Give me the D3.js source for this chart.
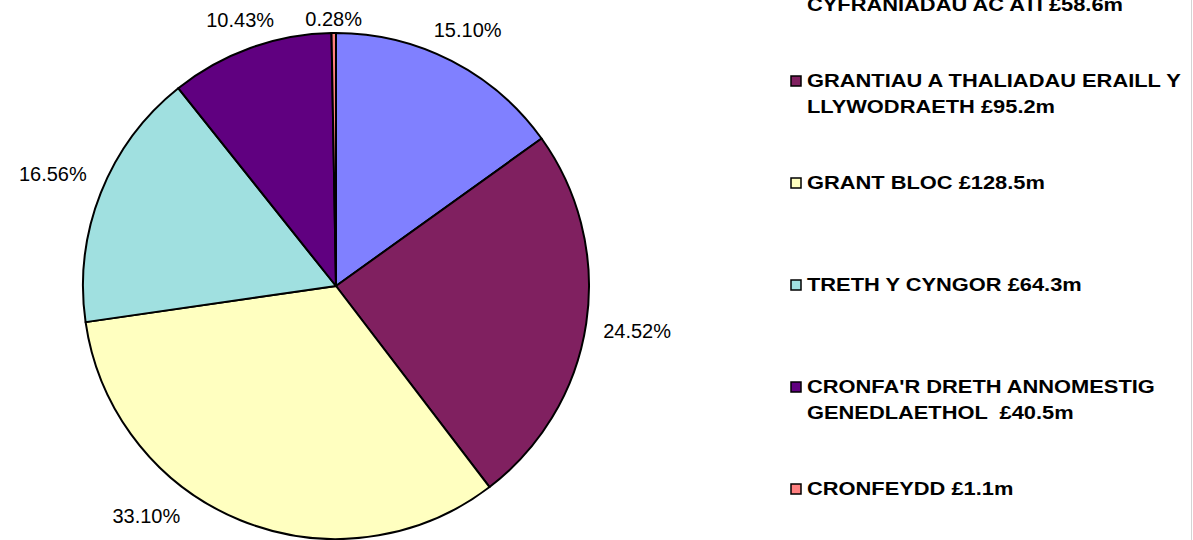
<!DOCTYPE html>
<html>
<head>
<meta charset="utf-8">
<script src="https://cdn.jsdelivr.net/npm/d3@7"></script>
<style>
  html, body { margin: 0; padding: 0; background: #fff; }
  svg { display: block; }
</style>
</head>
<body>
<div id="chart"></div>
<script>
/*************************************/
/* Data                              */
/*************************************/

// Legend names, "\n" marks the wrap point ('' = first line cut off in the source)
const categories = [
  '\nCYFRANIADAU AC ATI',
  'GRANTIAU A THALIADAU ERAILL Y\nLLYWODRAETH',
  'GRANT BLOC',
  'TRETH Y CYNGOR',
  "CRONFA'R DRETH ANNOMESTIG\nGENEDLAETHOL ",
  'CRONFEYDD'
];

// £ million
const values = [58.6, 95.2, 128.5, 64.3, 40.5, 1.1];

const colors = ['#8080FF', '#802060', '#FFFFC0', '#A0E0E0', '#600080', '#FF8080'];


/*************************************/
/* Layout                            */
/*************************************/

const width = 1193;
const height = 540;
const cx = 336;
const cy = 286;
const radius = 253;

const total = d3.sum(values);

const svg = d3.select('#chart')
  .append('svg')
  .attr('width', width)
  .attr('height', height)
  .attr('viewBox', [0, 0, width, height])
  .style('font-family', '"Liberation Sans", Arial, sans-serif');

// faint chart border (only the right edge shows)
svg.append('line')
  .attr('x1', width - 1.5).attr('x2', width - 1.5)
  .attr('y1', 0).attr('y2', height)
  .attr('stroke', '#d4d4d4')
  .attr('stroke-width', 1);


/*************************************/
/* Pie                               */
/*************************************/

const pie = d3.pie().sort(null).value(d => d);
const arcs = pie(values);

const arc = d3.arc().innerRadius(0).outerRadius(radius);

const pieG = svg.append('g')
  .attr('transform', `translate(${cx},${cy})`);

pieG.selectAll('path')
  .data(arcs)
  .join('path')
    .attr('d', arc)
    .attr('fill', (d, i) => colors[i])
    .attr('stroke', '#000')
    .attr('stroke-width', 2)
    .attr('stroke-linejoin', 'round');

// percentage labels outside the pie: box centre pushed out along the mid angle
// (wider gap at the sides than at top/bottom); if the bottom edge of the
// picture pulls a label onto the pie, slide it sideways
const labelH = 20;
pieG.selectAll('text')
  .data(arcs)
  .join('text')
    .attr('font-size', 20)
    .attr('fill', '#000')
    .attr('text-anchor', 'middle')
    .attr('dy', '0.35em')
    .text(d => (d.value / total * 100).toFixed(2) + '%')
    .each(function(d) {
      const w = this.getComputedTextLength();
      const a = (d.startAngle + d.endAngle) / 2;
      const s = Math.sin(a), c = Math.cos(a);
      const gap = 16 * Math.abs(s) + 4 * Math.abs(c);
      const r = radius + gap + Math.abs(s) * w / 2 + Math.abs(c) * labelH / 2;
      let x = r * s;
      const y0 = -r * c;
      const y = Math.max(-cy + 12, Math.min(height - cy - 24, y0));
      if (y < y0) {
        const dir = s >= 0 ? 1 : -1;
        for (let k = 0; k < 300; k++) {
          const nx = dir > 0 ? x - w / 2 : x + w / 2;
          if (Math.hypot(nx, y - labelH / 2) >= radius + 16) break;
          x += dir;
        }
      }
      d3.select(this).attr('x', x).attr('y', y);
    });


/*************************************/
/* Legend                            */
/*************************************/

const legendX = 791;
const legendTop = -15;   // baseline of the first line of the first entry
const legendStep = 102;
const lineHeight = 26;
const stretch = 1.15;    // legend type is set wide

const legend = svg.append('g')
  .attr('font-size', 19)
  .attr('font-weight', 'bold');

const item = legend.selectAll('g')
  .data(categories)
  .join('g')
    .attr('transform', (d, i) => `translate(${legendX},${legendTop + i * legendStep})`);

item.append('rect')
  .attr('x', 0)
  .attr('y', -11)
  .attr('width', 10)
  .attr('height', 10)
  .attr('fill', (d, i) => colors[i])
  .attr('stroke', '#000')
  .attr('stroke-width', 1.5);

item.append('text')
  .attr('transform', `translate(16,0) scale(${stretch},1)`)
  .style('white-space', 'pre')
  .attr('fill', '#000')
  .selectAll('tspan')
  .data((d, i) => (d + ' £' + values[i].toFixed(1) + 'm').split('\n'))
  .join('tspan')
    .attr('x', 0)
    .attr('y', (d, j) => j * lineHeight)
    .text(d => d);
</script>
</body>
</html>
